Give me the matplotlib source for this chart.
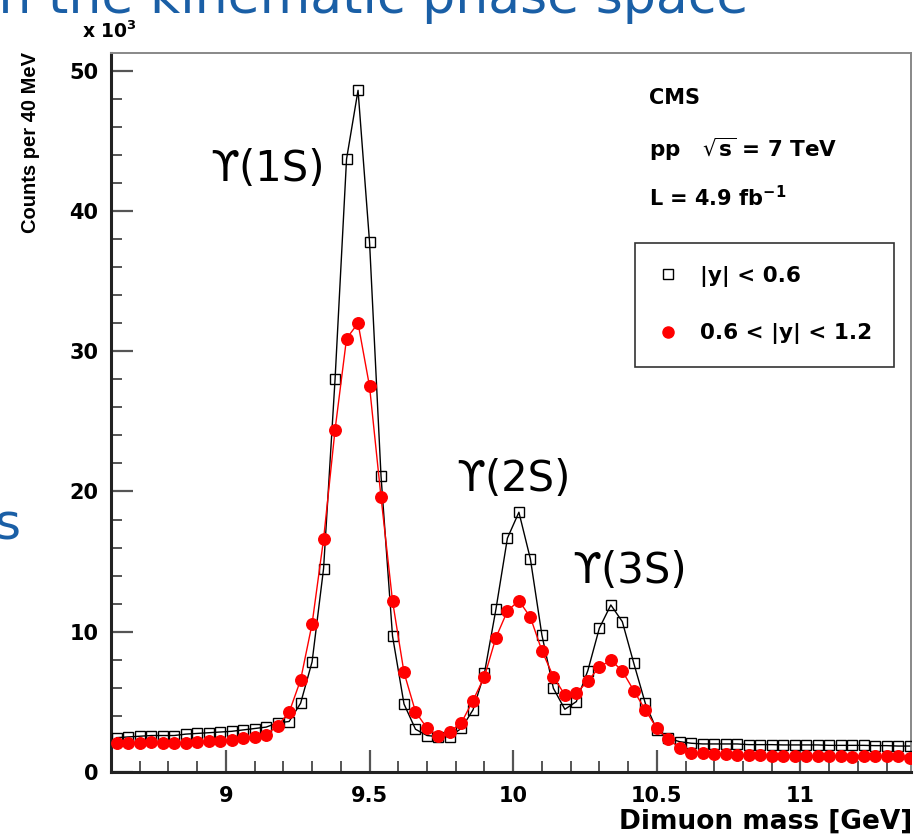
import numpy as np
import matplotlib
matplotlib.use("Agg")
import matplotlib.pyplot as plt
from matplotlib.lines import Line2D

# ---- data (counts in thousands per 40 MeV bin) ----
mass_lo, mass_hi, bin_w = 8.60, 11.40, 0.04
mass = np.round(np.arange(mass_lo + bin_w / 2, mass_hi, bin_w), 3)

counts_central = [  # |y| < 0.6
    2.45, 2.50, 2.55, 2.60, 2.60, 2.60, 2.70, 2.75, 2.80, 2.85, 2.90, 3.00, 3.10, 3.20, 3.50, 3.60,
    4.90, 7.85, 14.5, 28.0, 43.7, 48.6, 37.8, 21.1, 9.70, 4.85, 3.05,
    2.60, 2.52, 2.52, 3.12, 4.42, 7.04, 11.6, 16.67, 18.52, 15.19, 9.77, 5.97, 4.47, 5.02, 7.23,
    10.25, 11.91, 10.72, 7.75, 4.90, 3.00, 2.40, 2.16, 2.05,
    2.00, 2.00, 2.00, 2.00, 1.95, 1.95, 1.95, 1.93, 1.93, 1.93, 1.93, 1.90, 1.90, 1.90, 1.90,
    1.88, 1.88, 1.85, 1.85,
]
counts_forward = [  # 0.6 < |y| < 1.2
    2.09, 2.09, 2.09, 2.12, 2.05, 2.09, 2.09, 2.14, 2.19, 2.23, 2.28, 2.40, 2.52, 2.64, 3.30, 4.25,
    6.56, 10.56, 16.6, 24.4, 30.9, 32.0, 27.5, 19.6, 12.2, 7.10, 4.30,
    3.12, 2.57, 2.88, 3.52, 5.09, 6.80, 9.58, 11.48, 12.22, 11.03, 8.65, 6.80, 5.49, 5.61, 6.49,
    7.47, 7.99, 7.20, 5.80, 4.42, 3.12, 2.33, 1.73, 1.38,
    1.33, 1.30, 1.28, 1.21, 1.21, 1.20, 1.17, 1.17, 1.17, 1.17, 1.17, 1.17, 1.15, 1.10, 1.17,
    1.15, 1.15, 1.15, 1.02,
]
series_labels = ["|y| < 0.6", "0.6 < |y| < 1.2"]
peak_labels = ["ϒ(1S)", "ϒ(2S)", "ϒ(3S)"]
peak_pos = [(9.146, 43.0), (10.00, 20.9), (10.406, 14.3)]
x_ticks = [9, 9.5, 10, 10.5, 11]
x_ticklabels = ["9", "9.5", "10", "10.5", "11"]
y_ticks = [0, 10, 20, 30, 40, 50]

W, H = 916, 838
fig = plt.figure(figsize=(W / 100, H / 100), dpi=100)
fig.patch.set_facecolor("white")

def fx(px):
    return px / W

def fy(py):
    return 1 - py / H

L, R, T, B = 111, 911, 53, 772
ax = fig.add_axes([fx(L), fy(B), fx(R - L), (B - T) / H])
ax.set_xlim(8.60, 11.385)
ax.set_ylim(0, 51.26)

ax.plot(mass, counts_central, color="black", lw=1.0, marker="s", ms=7,
        mfc="none", mec="black", mew=1.0, zorder=3)
ax.plot(mass, counts_forward, color="red", lw=1.0, marker="o", ms=8.3,
        mfc="red", mec="red", zorder=4)

# spines
for s in ["left", "bottom"]:
    ax.spines[s].set_linewidth(2.2)
    ax.spines[s].set_color("#222222")
for s in ["top", "right"]:
    ax.spines[s].set_linewidth(1.4)
    ax.spines[s].set_color("#888888")

ax.set_xticks(x_ticks)
ax.set_xticklabels(x_ticklabels)
ax.set_xticks(np.arange(8.7, 11.39, 0.1), minor=True)
ax.set_yticks(y_ticks)
ax.set_yticks(np.arange(0, 51, 2), minor=True)
ax.tick_params(which="major", direction="in", length=16, width=1.6, color="#555555",
               top=False, right=False)
ax.tick_params(which="minor", direction="in", length=8, width=1.4, color="#555555",
               top=False, right=False)
ax.tick_params(axis="x", which="major", pad=10)
ax.tick_params(axis="y", which="major", pad=9)
for lab in ax.get_xticklabels() + ax.get_yticklabels():
    lab.set_fontfamily("DejaVu Sans")
    lab.set_fontweight("bold")
    lab.set_fontsize(15)

# axis titles
fig.text(fx(912), fy(822), "Dimuon mass [GeV]", ha="right", va="center",
         fontsize=19, fontweight="bold", family="DejaVu Sans")
fig.text(fx(31), fy(52), "Counts per 40 MeV", ha="center", va="top", rotation=90,
         fontsize=14.5, fontweight="bold", family="Liberation Sans")
fig.text(fx(82), fy(31), r"x 10$^{\mathbf{3}}$", ha="left", va="center",
         fontsize=13.5, fontweight="bold", family="DejaVu Sans")

# CMS labels
fig.text(fx(649), fy(98), "CMS", ha="left", va="center", fontsize=15,
         fontweight="bold", family="DejaVu Sans")
fig.text(fx(649), fy(149), r"pp   $\sqrt{\mathbf{s}}$ = 7 TeV", ha="left", va="center",
         fontsize=15.5, fontweight="bold", family="DejaVu Sans")
fig.text(fx(649), fy(198), r"L = 4.9 fb$^{\mathbf{-1}}$", ha="left", va="center",
         fontsize=15, fontweight="bold", family="DejaVu Sans")

# legend
handles = [
    Line2D([], [], ls="none", marker="s", ms=7, mfc="none", mec="black", mew=1.0),
    Line2D([], [], ls="none", marker="o", ms=8, mfc="red", mec="red"),
]
leg = ax.legend(handles, series_labels, loc="upper left",
                bbox_to_anchor=(fx(635), fy(243)), bbox_transform=fig.transFigure,
                frameon=True, fancybox=False, edgecolor="#333333", framealpha=1,
                prop=dict(family="DejaVu Sans", weight="bold", size=15.5),
                handlelength=1.0, handletextpad=0.95, borderpad=1.05,
                labelspacing=1.7, borderaxespad=0)
leg.get_frame().set_linewidth(1.2)

# peak labels
for txt, (px, py) in zip(peak_labels, peak_pos):
    ax.text(px, py, txt, ha="center", va="center", fontsize=30,
            family=["DejaVu Sans"], color="black")

# slide text fragments
blue = "#1a5fa6"
fig.text(fx(748), fy(13), "in the kinematic phase space", ha="right", va="baseline",
         fontsize=37.5, color=blue, family="DejaVu Sans")
fig.text(fx(20), fy(540), "s", ha="right", va="baseline", fontsize=36,
         color=blue, family="DejaVu Sans")

fig.savefig("out.png", dpi=100, facecolor="white")
